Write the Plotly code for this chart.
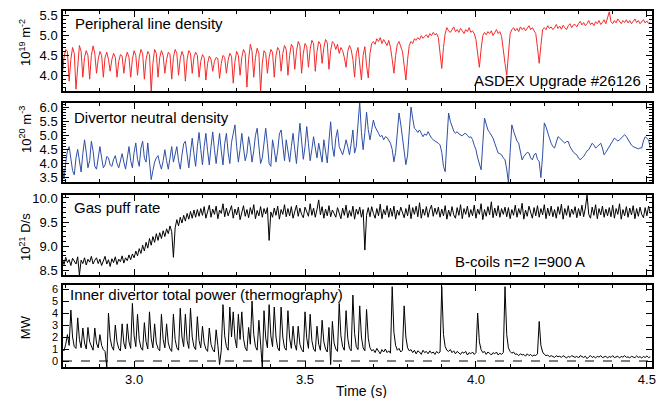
import numpy as np
import plotly.graph_objects as go

# ---- time base (s) ----
t_start = 2.79
t_step = 0.005

# ---- Peripheral line density (1e19 m^-2) ----
line_density = [
    4.00, 4.45, 4.65, 4.60, 3.85, 4.40, 4.70, 4.55, 3.65, 4.35, 4.75, 4.60, 3.95, 4.45, 4.62, 4.50, 3.90, 4.50, 4.74, 4.55,
    4.05, 4.40, 4.60, 4.50, 3.95, 4.45, 4.58, 4.40, 4.10, 4.40, 4.55, 4.45, 3.95, 4.35, 4.52, 4.48, 4.05, 4.42, 4.58, 4.45,
    3.95, 4.40, 4.62, 4.50, 4.00, 4.45, 4.65, 4.55, 3.90, 4.40, 4.60, 4.52, 3.58, 4.30, 4.65, 4.55, 3.95, 4.45, 4.62, 4.50,
    4.05, 4.40, 4.58, 4.52, 3.90, 4.45, 4.65, 4.55, 4.00, 4.42, 4.60, 4.48, 3.85, 4.40, 4.62, 4.55, 4.05, 4.45, 4.58, 4.50,
    3.95, 4.35, 4.52, 4.45, 3.88, 4.30, 4.48, 4.40, 4.10, 4.35, 4.45, 4.42, 3.92, 4.30, 4.50, 4.45, 4.05, 4.38, 4.55, 4.48,
    3.80, 4.35, 4.60, 4.50, 4.00, 4.45, 4.65, 4.55, 3.70, 4.40, 4.78, 4.60, 3.95, 4.45, 4.68, 4.55, 3.58, 4.30, 4.62, 4.55,
    4.05, 4.45, 4.65, 4.58, 3.95, 4.50, 4.70, 4.62, 4.10, 4.55, 4.75, 4.65, 4.00, 4.50, 4.78, 4.70, 4.15, 4.60, 4.85, 4.75,
    4.05, 4.55, 4.80, 4.72, 4.20, 4.65, 4.88, 4.80, 4.10, 4.60, 4.85, 4.78, 4.30, 4.70, 4.90, 4.82, 4.15, 4.62, 4.85, 4.80,
    4.65, 4.78, 4.55, 4.70, 4.62, 4.45, 4.20, 4.60, 4.75, 4.65, 4.40, 3.95, 4.55, 4.70, 4.30, 3.88, 4.50, 4.72, 4.25, 3.93,
    4.55, 4.80, 4.85, 4.78, 4.92, 4.85, 4.95, 4.80, 4.90, 4.82, 4.75, 4.88, 4.70, 4.40, 4.05, 4.50, 4.78, 4.85, 4.72, 4.60,
    4.25, 3.88, 4.40, 4.75, 4.85, 4.80, 4.92, 4.88, 4.95, 4.90, 5.00, 4.93, 4.98, 5.02, 4.95, 5.05, 5.00, 5.08, 5.02, 5.05,
    4.95, 4.60, 4.17, 4.70, 5.05, 5.20, 5.12, 5.08, 5.15, 5.22, 5.10, 5.15, 5.08, 5.18, 5.12, 5.05, 5.15, 5.10, 5.20, 5.08,
    5.12, 5.05, 4.90, 4.50, 4.20, 4.65, 5.00, 5.08, 5.02, 5.10, 5.05, 5.12, 5.00, 5.08, 5.15, 5.05, 5.10, 4.98, 4.70, 4.30,
    4.00, 4.55, 5.05, 5.15, 5.20, 5.12, 5.18, 5.10, 5.22, 5.15, 5.20, 5.12, 5.18, 5.25, 5.15, 5.20, 5.12, 5.05, 4.70, 4.30,
    4.75, 5.15, 5.20, 5.15, 5.25, 5.18, 5.22, 5.15, 5.20, 5.28, 5.18, 5.24, 5.16, 5.26, 5.20, 5.15, 5.25, 5.30, 5.20, 5.27,
    5.28, 5.22, 5.30, 5.36, 5.27, 5.33, 5.25, 5.30, 5.38, 5.28, 5.32, 5.25, 5.35, 5.30, 5.38, 5.28, 5.33, 5.40, 5.30, 5.45,
    5.60, 5.35, 5.30, 5.38, 5.32, 5.42, 5.35, 5.30, 5.38, 5.33, 5.40, 5.32, 5.38, 5.30, 5.36, 5.42, 5.33, 5.38, 5.30, 5.36,
    5.40, 5.32, 5.37, 5.30, 5.34,
]

# ---- Divertor neutral density (1e20 m^-3) ----
neutral_density = [
    3.90, 3.45, 4.05, 4.45, 4.60, 4.25, 3.75, 3.60, 4.20, 4.50, 4.05, 3.70, 4.35, 4.84, 4.40, 3.85, 4.10, 4.79, 4.45, 3.90,
    3.80, 4.25, 4.60, 4.20, 3.85, 3.95, 4.25, 4.20, 3.95, 3.90, 4.15, 4.28, 4.00, 3.85, 4.10, 4.35, 4.05, 3.80, 4.20, 4.60,
    4.10, 3.85, 4.40, 4.73, 4.15, 3.90, 4.55, 4.79, 4.20, 4.05, 4.73, 4.00, 3.43, 3.75, 4.05, 4.20, 4.28, 4.00, 3.80, 4.10,
    4.49, 4.10, 3.80, 4.20, 4.60, 4.05, 4.30, 4.60, 4.10, 3.80, 4.30, 4.70, 4.79, 4.20, 3.85, 4.40, 4.90, 4.35, 3.90, 4.60,
    5.10, 4.50, 3.95, 4.60, 5.07, 4.45, 3.95, 4.60, 5.12, 4.50, 4.00, 4.55, 5.07, 4.45, 3.95, 4.70, 5.07, 4.40, 4.00, 4.75,
    5.10, 5.37, 4.60, 4.05, 4.50, 5.07, 4.55, 4.10, 4.35, 4.95, 4.60, 4.05, 4.45, 5.00, 5.25, 4.60, 4.00, 4.20, 4.75, 5.25,
    4.70, 4.00, 3.90, 4.84, 4.50, 4.05, 4.45, 5.05, 5.19, 4.55, 4.10, 4.84, 4.50, 4.05, 4.60, 5.07, 4.50, 4.00, 4.75, 5.43,
    4.80, 4.15, 4.60, 5.31, 4.70, 4.10, 4.50, 4.95, 4.55, 4.20, 4.72, 4.35, 4.05, 4.84, 4.50, 4.02, 4.80, 5.48, 4.60, 4.25,
    4.90, 5.20, 4.60, 4.45, 4.31, 4.55, 4.84, 4.60, 4.31, 4.70, 5.19, 4.37, 4.60, 5.40, 6.18, 5.10, 4.49, 5.10, 5.82, 5.20,
    4.84, 5.20, 5.54, 5.30, 5.15, 5.07, 4.95, 5.00, 4.84, 4.95, 4.92, 4.80, 4.72, 4.50, 4.06, 4.40, 5.20, 5.79, 5.40, 4.95,
    4.50, 3.96, 4.30, 5.20, 6.00, 5.60, 5.25, 5.19, 5.10, 5.19, 5.05, 4.95, 5.05, 5.00, 5.13, 5.00, 4.90, 4.84, 4.80, 4.78,
    4.72, 4.66, 4.40, 3.90, 3.71, 4.80, 5.79, 5.50, 5.30, 5.15, 5.07, 5.13, 5.05, 5.00, 4.98, 5.05, 5.07, 5.00, 4.92, 4.95,
    4.85, 4.65, 4.49, 4.20, 3.95, 3.78, 4.70, 5.61, 5.40, 5.19, 5.10, 5.02, 4.90, 4.72, 4.55, 4.37, 4.35, 4.31, 4.20, 4.13,
    3.80, 3.33, 4.40, 5.37, 5.15, 4.95, 4.80, 4.72, 4.40, 4.13, 4.25, 4.31, 4.40, 4.37, 4.20, 4.13, 4.30, 4.37, 4.15, 4.07,
    3.50, 4.30, 5.44, 5.30, 5.07, 4.90, 4.72, 4.60, 4.55, 4.75, 4.95, 4.90, 4.84, 4.75, 4.72, 4.78, 4.78, 4.60, 4.49, 4.40,
    4.35, 4.31, 4.20, 4.13, 4.20, 4.25, 4.35, 4.45, 4.49, 4.60, 4.72, 4.65, 4.55, 4.60, 4.68, 4.72, 4.55, 4.31, 4.40, 4.50,
    4.60, 4.70, 4.80, 4.90, 4.85, 4.80, 4.84, 4.90, 4.95, 5.02, 4.95, 4.85, 4.72, 4.65, 4.60, 4.58, 4.55, 4.52, 4.55, 4.55,
    4.80, 4.95, 4.90, 4.84, 4.55,
]

# ---- Gas puff rate (1e21 D/s) ----
gas_puff = [
    8.74, 8.62, 8.77, 8.66, 8.72, 8.60, 8.75, 8.68, 8.63, 8.78, 8.40, 8.71, 8.64, 8.76, 8.61, 8.73, 8.67, 8.79, 8.63, 8.71,
    8.76, 8.64, 8.73, 8.60, 8.70, 8.79, 8.63, 8.72, 8.58, 8.74, 8.66, 8.78, 8.62, 8.73, 8.68, 8.80, 8.65, 8.76, 8.70, 8.82,
    8.72, 8.84, 8.76, 8.90, 8.80, 8.95, 8.85, 9.02, 8.90, 9.08, 8.96, 9.16, 9.02, 9.20, 9.08, 9.26, 9.12, 9.28, 9.16, 9.32,
    9.20, 9.36, 9.26, 9.42, 9.30, 8.77, 9.38, 9.55, 9.42, 9.60, 9.48, 9.64, 9.52, 9.68, 9.56, 9.72, 9.58, 9.75, 9.60, 9.76,
    9.62, 9.78, 9.64, 9.82, 9.58, 9.74, 9.85, 9.60, 9.77, 9.66, 9.83, 9.57, 9.75, 9.68, 9.88, 9.61, 9.79, 9.63, 9.72, 9.84,
    9.58, 9.77, 9.65, 9.81, 9.55, 9.73, 9.84, 9.62, 9.76, 9.59, 9.80, 9.66, 9.86, 9.57, 9.74, 9.63, 9.82, 9.60, 9.78, 9.67,
    9.80, 9.12, 9.71, 9.60, 9.79, 9.64, 9.83, 9.56, 9.76, 9.66, 9.86, 9.61, 9.78, 9.63, 9.82, 9.58, 9.74, 9.85, 9.62, 9.79,
    9.66, 9.59, 9.81, 9.70, 9.62, 9.88, 9.64, 9.79, 9.60, 9.76, 9.96, 9.65, 9.82, 9.58, 9.77, 9.63, 9.84, 9.61, 9.75, 9.68,
    9.60, 9.80, 9.67, 9.57, 9.79, 9.64, 9.85, 9.59, 9.74, 9.62, 9.83, 9.56, 9.77, 9.66, 9.81, 9.60, 9.76, 8.92, 9.64, 9.80,
    9.61, 9.82, 9.68, 9.58, 9.78, 9.63, 9.87, 9.57, 9.76, 9.65, 9.84, 9.60, 9.79, 9.62, 9.83, 9.56, 9.75, 9.64, 9.81, 9.67,
    9.59, 9.78, 9.63, 9.86, 9.57, 9.80, 9.66, 9.83, 9.61, 9.90, 9.58, 9.77, 9.64, 9.82, 9.60, 9.76, 9.85, 9.62, 9.79, 9.66,
    9.81, 9.60, 9.77, 9.63, 9.84, 9.56, 9.75, 9.62, 9.82, 9.65, 9.58, 9.80, 9.64, 9.86, 9.57, 9.78, 9.66, 9.83, 9.60, 9.76,
    9.63, 9.85, 9.58, 9.77, 9.66, 9.88, 9.55, 9.76, 9.62, 9.82, 9.65, 9.92, 9.59, 9.79, 9.63, 9.84, 9.60, 9.78, 9.66, 9.81,
    9.61, 9.80, 9.57, 9.76, 9.64, 9.85, 9.60, 9.78, 9.66, 9.89, 9.56, 9.75, 9.62, 9.83, 9.67, 9.58, 9.80, 9.63, 9.84, 9.60,
    9.78, 9.65, 9.86, 9.57, 9.79, 9.63, 9.83, 9.61, 9.76, 9.58, 9.82, 9.66, 9.87, 9.56, 9.78, 9.64, 9.84, 9.60, 9.77, 9.66,
    9.82, 9.59, 9.78, 9.63, 9.85, 9.61, 9.79, 10.06, 9.66, 9.58, 9.81, 9.64, 9.86, 9.57, 9.78, 9.65, 9.83, 9.60, 9.77, 9.63,
    9.80, 9.61, 9.85, 9.58, 9.78, 9.66, 9.88, 9.56, 9.76, 9.63, 9.82, 9.60, 9.79, 9.65, 9.84, 9.57, 9.78, 9.62, 9.81, 9.66,
    9.59, 9.80, 9.63, 9.83, 9.68,
]

# ---- Inner divertor total power, thermography (MW) ----
div_power = [
    1.00, 0.85, 1.40, 2.20, 1.30, 4.25, 2.00, 1.20, 1.05, 3.60, 1.80, 1.10, 2.75, 1.50, 1.00, 2.80, 1.60, 1.15, 0.90, 2.75,
    1.50, 1.10, 2.20, 1.30, 0.95, 0.80, -0.50, 4.00, 1.90, 1.20, 0.90, 3.00, 1.60, 1.05, 0.85, 3.10, 1.50, 1.00, 3.10, 1.60,
    1.05, 4.80, 2.10, 1.20, 3.90, 1.80, 1.10, 0.90, 3.20, 1.60, 1.00, 4.10, 1.90, 1.10, 3.10, 1.50, 1.05, 0.85, 3.90, 1.80,
    1.10, 3.10, 1.50, 1.00, 0.80, 3.90, 1.80, 1.10, 0.90, 4.40, 2.00, 1.20, 3.90, 1.70, 1.05, 4.40, 2.00, 1.20, 0.95, 3.70,
    1.70, 1.10, 2.90, 1.50, 1.00, 0.80, 2.75, 1.40, 0.95, 0.75, 2.60, 1.30, -0.30, 0.90, 4.70, 2.10, 1.20, 0.90, 4.50, 2.00,
    4.10, 1.90, 1.10, 3.90, 1.80, 4.10, 1.90, 1.10, 0.85, 2.80, 1.40, 5.00, 2.20, 1.20, 0.90, 3.40, 1.60, -0.50, 4.20, 1.90,
    1.10, 4.70, 2.10, 1.20, 4.50, 2.00, 1.10, 0.85, 4.50, 2.00, 1.10, 0.90, 4.20, 1.90, 1.05, 2.90, 1.40, 0.90, 2.90, 1.40,
    0.95, 0.75, 4.10, 1.90, 1.05, 3.90, 1.70, 1.00, 0.80, 2.90, 1.40, 0.90, 3.40, 1.60, 1.00, 0.75, 2.80, -0.30, 3.30, 1.50,
    1.00, 0.80, 4.80, 2.10, 1.20, 0.90, 4.20, 1.90, 1.05, 0.85, 5.50, 2.30, 1.20, 0.95, 4.60, 2.00, 1.10, 0.85, 4.30, 1.90,
    1.10, 0.85, 0.95, 0.70, 1.05, 0.80, 0.60, 0.95, 0.75, 1.00, 0.70, 0.85, 0.65, 6.20, 2.40, 1.30, 0.90, 1.05, 0.75, 0.90,
    4.60, 2.00, 1.10, 0.85, 0.95, 0.70, 0.90, 0.60, 0.85, 0.75, 0.55, 0.90, 0.70, 0.80, 0.60, 0.85, 0.65, 0.75, 0.55, 0.80,
    0.65, 0.75, 6.20, 2.20, 1.20, 0.90, 0.80, 0.95, 0.70, 0.85, 0.60, 0.80, 0.70, 0.55, 0.75, 0.65, 0.80, 0.50, 0.70, 0.60,
    0.75, 0.55, 0.70, 4.00, 1.60, 0.95, 0.70, 0.80, 0.55, 0.75, 0.65, 0.50, 0.70, 0.60, 0.75, 0.50, 0.65, 0.55, 0.70, 6.20,
    2.20, 1.10, 0.80, 0.65, 0.75, 0.55, 0.60, 0.45, 0.60, 0.50, 0.55, 0.40, 0.60, 0.45, 0.55, 0.40, 0.50, 0.45, 0.60, 3.30,
    1.30, 0.75, 0.55, 0.45, 0.50, 0.35, 0.45, 0.40, 0.30, 0.45, 0.35, 0.40, 0.30, 0.45, 0.35, 0.25, 0.40, 0.30, 0.45, 0.35,
    0.30, 0.40, 0.25, 0.45, 0.35, 0.30, 0.40, 0.20, 0.35, 0.45, 0.30, 0.38, 0.25, 0.40, 0.32, 0.45, 0.28, 0.35, 0.40, 0.25,
    0.38, 0.30, 0.45, 0.28, 0.35, 0.40, 0.25, 0.38, 0.32, 0.45, 0.30, 0.35, 0.25, 0.40, 0.33, 0.28, 0.42, 0.30, 0.36, 0.25,
    0.38, 0.30, 0.42, 0.28, 0.35,
]

time = t_start + t_step * np.arange(len(line_density))

FONT = "Liberation Sans, Arial, sans-serif"
x_range = [2.792, 4.515]

fig = go.Figure()

fig.add_trace(go.Scatter(x=time, y=line_density, mode="lines",
                         line=dict(color="#f52a2a", width=1), xaxis="x", yaxis="y"))
fig.add_trace(go.Scatter(x=time, y=neutral_density, mode="lines",
                         line=dict(color="#2f4fa6", width=1), xaxis="x2", yaxis="y2"))
fig.add_trace(go.Scatter(x=time, y=gas_puff, mode="lines",
                         line=dict(color="black", width=1), xaxis="x3", yaxis="y3"))
fig.add_trace(go.Scatter(x=time, y=div_power, mode="lines",
                         line=dict(color="black", width=1), xaxis="x4", yaxis="y4"))


def x_axis(anchor, labels):
    return dict(anchor=anchor, domain=[0, 1], range=x_range, showline=True,
                linecolor="black", linewidth=1.5, mirror="allticks",
                ticks="inside", ticklen=6, tickwidth=1, tickcolor="black",
                tick0=3.0, dtick=0.5, tickformat=".1f", showticklabels=labels,
                minor=dict(tick0=3.0, dtick=0.1, ticks="inside", ticklen=3,
                           tickwidth=1, tickcolor="black"),
                showgrid=False, zeroline=False, automargin=False,
                tickfont=dict(family=FONT, size=13, color="black"))


def y_axis(anchor, domain, rng, dtick, fmt, minor_dtick=None, size=13):
    ax = dict(anchor=anchor, domain=domain, range=rng, showline=True,
              linecolor="black", linewidth=1.5, mirror="allticks",
              ticks="inside", ticklen=6, tickwidth=1, tickcolor="black",
              dtick=dtick, tickformat=fmt, showgrid=False, zeroline=False,
              automargin=False, ticklabelstandoff=1,
              tickfont=dict(family=FONT, size=size, color="black"))
    if minor_dtick:
        ax["minor"] = dict(dtick=minor_dtick, ticks="inside", ticklen=3,
                           tickwidth=1, tickcolor="black")
    return ax


# panel titles and labels
notes = [
    dict(text="Peripheral line density", x=0.017, y=0.84, xref="x domain", yref="y domain",
         xanchor="left"),
    dict(text="ASDEX Upgrade #26126", x=0.985, y=0.13, xref="x domain", yref="y domain",
         xanchor="right"),
    dict(text="Divertor neutral density", x=0.015, y=0.82, xref="x2 domain", yref="y2 domain",
         xanchor="left"),
    dict(text="Gas puff rate", x=0.015, y=0.85, xref="x3 domain", yref="y3 domain",
         xanchor="left"),
    dict(text="B-coils n=2 I=900 A", x=0.662, y=0.175, xref="x3 domain", yref="y3 domain",
         xanchor="left"),
    dict(text="Inner divertor total power (thermography)", x=0.008, y=0.88,
         xref="x4 domain", yref="y4 domain", xanchor="left"),
]
annotations = [dict(text=n["text"], x=n["x"], y=n["y"], xref=n["xref"], yref=n["yref"],
                    xanchor=n["xanchor"], yanchor="middle", showarrow=False,
                    font=dict(family=FONT, size=15, color="black")) for n in notes]

y_titles = [("10<sup>19</sup> m<sup>-2</sup>", 0.910),
            ("10<sup>20</sup> m<sup>-3</sup>", 0.666),
            ("10<sup>21</sup> D/s", 0.365),
            ("MW", 0.112)]
for text, ypos in y_titles:
    annotations.append(dict(text=text, x=-0.0645, y=ypos, xref="paper", yref="paper",
                            xanchor="center", yanchor="middle", textangle=-90,
                            showarrow=False, font=dict(family=FONT, size=13, color="black")))

annotations.append(dict(text="Time (s)", x=0.506, y=-0.068, xref="paper", yref="paper",
                        xanchor="center", yanchor="middle", showarrow=False,
                        font=dict(family=FONT, size=14, color="black")))

# page body keeps an 8 px margin, so the figure is 16 px smaller than the window
fig.update_layout(
    width=650, height=390,
    margin=dict(l=55, r=6, t=3, b=31),
    paper_bgcolor="white", plot_bgcolor="white",
    showlegend=False,
    xaxis=x_axis("y", False),
    xaxis2=x_axis("y2", False),
    xaxis3=x_axis("y3", False),
    xaxis4=x_axis("y4", True),
    yaxis=y_axis("x", [0.775, 1.0], [3.6, 5.62], 0.5, ".1f", 0.1),
    yaxis2=y_axis("x2", [0.520, 0.742], [3.35, 6.15], 0.5, ".1f", 0.1),
    yaxis3=y_axis("x3", [0.258, 0.483], [8.4, 10.06], 0.5, ".1f", 0.1),
    yaxis4=y_axis("x4", [0.0, 0.230], [-0.5, 6.33], 1, "d", size=11),
    annotations=annotations,
    shapes=[dict(type="line", xref="x4 domain", yref="y4", x0=0, x1=1, y0=0, y1=0,
                 line=dict(color="black", width=1, dash="dash"))],
)

fig.write_html("out.html")
